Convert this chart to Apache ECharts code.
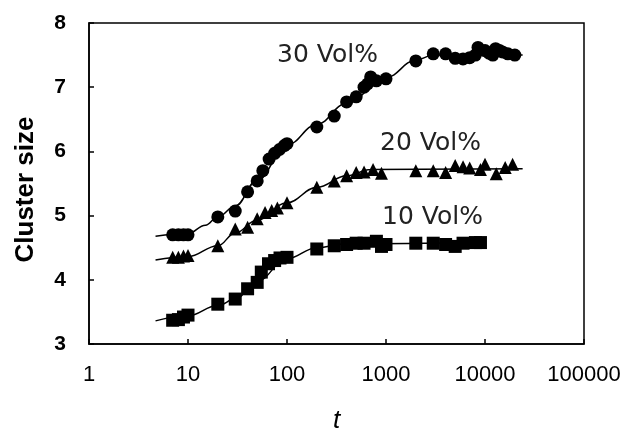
<!DOCTYPE html>
<html>
<head>
<meta charset="utf-8">
<script src="https://cdn.jsdelivr.net/npm/echarts@6/dist/echarts.min.js"></script>
<style>
    html, body { margin: 0; padding: 0; background: #fff; }
    #chart { width: 621px; height: 430px; }
</style>
</head>
<body>
<div id="chart"></div>
<script>
// measured points (t, cluster size)
var t30 = [7, 8, 9, 10, 20, 30, 40, 50, 57, 66, 75, 84, 94, 100, 200, 300, 400, 500, 600, 650, 700, 800, 1000, 2000, 3000, 4000, 5000, 6000, 7000, 8000, 8500, 10000, 11000, 12000, 12800, 14000, 15000, 17000, 20000];
var c30 = [4.7, 4.7, 4.7, 4.7, 4.98, 5.07, 5.37, 5.54, 5.7, 5.88, 5.97, 6.03, 6.09, 6.12, 6.38, 6.55, 6.77, 6.85, 7.0, 7.05, 7.16, 7.1, 7.13, 7.41, 7.52, 7.52, 7.45, 7.44, 7.46, 7.5, 7.62, 7.57, 7.53, 7.5, 7.6, 7.57, 7.55, 7.52, 7.5];

var t20 = [7, 8, 9, 10, 20, 30, 40, 50, 60, 70, 80, 100, 200, 300, 400, 500, 600, 740, 900, 2000, 3000, 4000, 5000, 6000, 7000, 9000, 10000, 13000, 16000, 19000];
var c20 = [4.35, 4.35, 4.37, 4.38, 4.53, 4.79, 4.82, 4.95, 5.05, 5.08, 5.12, 5.2, 5.44, 5.54, 5.62, 5.67, 5.68, 5.72, 5.66, 5.7, 5.7, 5.67, 5.78, 5.76, 5.74, 5.72, 5.8, 5.65, 5.75, 5.8];

var t10 = [7, 8, 9, 10, 20, 30, 40, 50, 55, 65, 75, 85, 100, 200, 300, 400, 500, 600, 800, 900, 1000, 2000, 3000, 4000, 5000, 6000, 8000, 9000];
var c10 = [3.37, 3.38, 3.42, 3.45, 3.62, 3.7, 3.86, 3.96, 4.12, 4.25, 4.3, 4.34, 4.35, 4.48, 4.53, 4.55, 4.57, 4.57, 4.6, 4.52, 4.55, 4.57, 4.57, 4.55, 4.52, 4.57, 4.58, 4.58];

// fitted curves
var fit30T = [4.7, 10, 15, 20, 30, 50, 100, 200, 400, 1000, 2000, 3000, 24000];
var fit30C = [4.68, 4.72, 4.85, 4.98, 5.15, 5.55, 6.1, 6.42, 6.75, 7.15, 7.42, 7.5, 7.5];
var fit20T = [4.7, 10, 20, 30, 50, 100, 200, 400, 700, 24000];
var fit20C = [4.31, 4.36, 4.53, 4.73, 4.93, 5.2, 5.44, 5.62, 5.72, 5.73];
var fit10T = [4.7, 10, 20, 30, 50, 100, 200, 400, 9500];
var fit10C = [3.36, 3.44, 3.6, 3.7, 3.98, 4.33, 4.5, 4.56, 4.58];

var seriesNames = ['30 Vol%', '20 Vol%', '10 Vol%'];
var xTicks = [1, 10, 100, 1000, 10000, 100000];
var yTicks = [3, 4, 5, 6, 7, 8];

function pairs(xs, ys) {
    var out = [];
    for (var i = 0; i < xs.length; i++) {
        out.push([xs[i], ys[i]]);
    }
    return out;
}

function fitLine(xs, ys) {
    return {
        type: 'line',
        data: pairs(xs, ys),
        smooth: 0.4,
        smoothMonotone: 'x',
        showSymbol: false,
        symbol: 'none',
        lineStyle: { color: '#000', width: 1.5 },
        z: 2,
        silent: true
    };
}

function points(xs, ys, symbol, size) {
    return {
        type: 'scatter',
        data: pairs(xs, ys),
        symbol: symbol,
        symbolSize: size,
        itemStyle: { color: '#000', opacity: 1 },
        z: 3
    };
}

var chart = echarts.init(document.getElementById('chart'));

var labelFont = '25px "DejaVu Sans"';

var option = {
    animation: false,
    backgroundColor: '#fff',
    grid: {
        left: 89, right: 37, top: 23, bottom: 86,
        outerBoundsMode: 'none',
        containLabel: false,
        show: true,
        borderColor: '#000',
        borderWidth: 1.5
    },
    xAxis: {
        type: 'log',
        logBase: 10,
        min: xTicks[0],
        max: xTicks[xTicks.length - 1],
        name: 't',
        nameLocation: 'middle',
        nameGap: 64,
        nameTextStyle: { fontFamily: 'Liberation Sans', fontStyle: 'italic', fontSize: 26, color: '#000' },
        axisLine: { show: true, lineStyle: { color: '#000', width: 1.5 } },
        axisTick: { show: true, inside: true, length: 5, lineStyle: { color: '#000', width: 1.5 } },
        minorTick: { show: false },
        splitLine: { show: false },
        axisLabel: {
            margin: 20,
            fontFamily: 'Liberation Sans',
            fontSize: 22,
            color: '#000',
            formatter: function(v) { return String(Math.round(v)); }
        }
    },
    yAxis: {
        type: 'value',
        min: yTicks[0],
        max: yTicks[yTicks.length - 1],
        interval: 1,
        name: 'Cluster size',
        nameLocation: 'middle',
        nameGap: 50,
        nameTextStyle: { fontFamily: 'Liberation Sans', fontWeight: 'bold', fontSize: 26, color: '#000', padding: [0, 12, 0, 0] },
        axisLine: { show: true, lineStyle: { color: '#000', width: 1.5 } },
        axisTick: { show: true, inside: true, length: 5, lineStyle: { color: '#000', width: 1.5 } },
        splitLine: { show: false },
        axisLabel: {
            margin: 23,
            fontFamily: 'Liberation Sans',
            fontWeight: 'bold',
            fontSize: 21,
            color: '#000'
        }
    },
    graphic: [
        { type: 'text', left: 277, top: 43, style: { text: seriesNames[0], font: labelFont, fill: '#222' } },
        { type: 'text', left: 380, top: 131, style: { text: seriesNames[1], font: labelFont, fill: '#222' } },
        { type: 'text', left: 382, top: 205, style: { text: seriesNames[2], font: labelFont, fill: '#222' } }
    ],
    series: [
        fitLine(fit30T, fit30C),
        fitLine(fit20T, fit20C),
        fitLine(fit10T, fit10C),
        points(t30, c30, 'circle', 13),
        points(t20, c20, 'triangle', 13),
        points(t10, c10, 'rect', 13)
    ]
};

chart.setOption(option);
</script>
</body>
</html>
